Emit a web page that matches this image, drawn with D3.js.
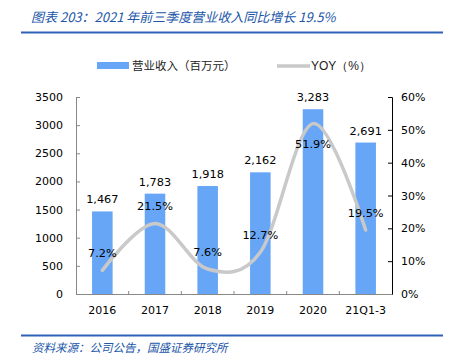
<!DOCTYPE html>
<html><head><meta charset="utf-8">
<script src="https://cdn.jsdelivr.net/npm/d3@7/dist/d3.min.js"></script>
<style>body{margin:0;background:#fff}svg{display:block}</style>
</head><body>
<svg id="c" width="450" height="360"></svg>
<script>
const categories = ["2016","2017","2018","2019","2020","21Q1-3"];
const revenue = [1467,1783,1918,2162,3283,2691];
const revenueLabels = ["1,467","1,783","1,918","2,162","3,283","2,691"];
const yoy = [7.2,21.5,7.6,12.7,51.9,19.5];
const yoyLabels = ["7.2%","21.5%","7.6%","12.7%","51.9%","19.5%"];
const leftTicks = [0,500,1000,1500,2000,2500,3000,3500];
const rightTicks = [0,10,20,30,40,50,60];
const titleText = "图表 203：2021 年前三季度营业收入同比增长 19.5%";
const sourceText = "资料来源：公司公告，国盛证券研究所";
const legendBar = "营业收入（百万元）";
const legendLine = "YOY（%）";

const svg = d3.select("#c");
const L = 76, R = 392, T = 97, B = 294;
const font = "'DejaVu Sans', Verdana, sans-serif";
const cjk = "'Noto Sans CJK SC', sans-serif";
const blue = "#2155a8";

// title
svg.append("text").attr("x", 31).attr("y", 22).attr("fill", blue)
  .attr("font-family", cjk).attr("font-style", "italic").attr("font-size", 13)
  .text(titleText);
svg.append("line").attr("x1", 21).attr("x2", 443).attr("y1", 32.5).attr("y2", 32.5)
  .attr("stroke", "#2e62b8").attr("stroke-width", 2);
// footer
svg.append("line").attr("x1", 21).attr("x2", 443).attr("y1", 335.5).attr("y2", 335.5)
  .attr("stroke", "#2e62b8").attr("stroke-width", 2);
svg.append("text").attr("x", 32).attr("y", 352).attr("fill", blue)
  .attr("font-family", cjk).attr("font-style", "italic").attr("font-size", 11.5)
  .text(sourceText);

const x = d3.scaleBand().domain(categories).range([L, R]).paddingInner(0.61).paddingOuter(0.305);
const xp = d3.scalePoint().domain(categories).range([L, R]).padding(0.5);
const y = d3.scaleLinear().domain([0, 3500]).range([B, T]);
const y2 = d3.scaleLinear().domain([0, 60]).range([B, T]);

// bars
svg.append("g").selectAll("rect").data(revenue).join("rect")
  .attr("x", (d, i) => x(categories[i])).attr("width", x.bandwidth())
  .attr("y", d => y(d)).attr("height", d => B - y(d))
  .attr("fill", "#67a6f7");

// axes
const gl = svg.append("g").attr("transform", `translate(${L},0)`)
  .call(d3.axisLeft(y).tickValues(leftTicks).tickSize(-4).tickPadding(13).tickFormat(d3.format("d")));
gl.select(".domain").attr("stroke", "#888");
gl.selectAll(".tick line").attr("stroke", "#888");
gl.selectAll("text").attr("font-family", font).attr("font-size", 11).attr("fill", "#000");

const gr = svg.append("g").attr("transform", `translate(${R},0)`)
  .call(d3.axisRight(y2).tickValues(rightTicks).tickSize(-4).tickPadding(9).tickFormat(d => d + "%"));
gr.select(".domain").attr("stroke", "#000");
gr.selectAll(".tick line").attr("stroke", "#000");
gr.selectAll("text").attr("font-family", font).attr("font-size", 11).attr("fill", "#000");

// bottom axis
const step = (R - L) / categories.length;
svg.append("line").attr("x1", L).attr("x2", R).attr("y1", B + 0.5).attr("y2", B + 0.5).attr("stroke", "#888");
svg.append("g").selectAll("line").data(d3.range(1, categories.length)).join("line")
  .attr("x1", i => L + i * step).attr("x2", i => L + i * step)
  .attr("y1", B - 3).attr("y2", B).attr("stroke", "#888");
svg.append("g").selectAll("text").data(categories).join("text")
  .attr("x", d => xp(d)).attr("y", 314).attr("text-anchor", "middle")
  .attr("font-family", font).attr("font-size", 11).text(d => d);

// line
const line = d3.line().x((d, i) => xp(categories[i])).y(d => y2(d)).curve(d3.curveCatmullRom.alpha(0));
svg.append("path").datum(yoy).attr("d", line).attr("fill", "none")
  .attr("stroke", "#c9c9c9").attr("stroke-width", 3.5).attr("stroke-linecap", "round");

// bar labels
svg.append("g").selectAll("text").data(revenue).join("text")
  .attr("x", (d, i) => xp(categories[i])).attr("y", d => y(d) - 8)
  .attr("text-anchor", "middle").attr("font-family", font).attr("font-size", 11.3)
  .text((d, i) => revenueLabels[i]);

// yoy labels
const offs = [-17, -17, -17, -17, 20, -17];
svg.append("g").selectAll("text").data(yoy).join("text")
  .attr("x", (d, i) => xp(categories[i])).attr("y", (d, i) => y2(d) + offs[i] + 4)
  .attr("text-anchor", "middle").attr("font-family", font).attr("font-size", 11.3)
  .text((d, i) => yoyLabels[i]);

// legend
svg.append("rect").attr("x", 97).attr("y", 62).attr("width", 32).attr("height", 7).attr("fill", "#67a6f7");
svg.append("text").attr("x", 132).attr("y", 70).attr("font-family", cjk).attr("font-size", 11.5).attr("fill", "#222").text(legendBar);
svg.append("line").attr("x1", 277).attr("x2", 310).attr("y1", 66).attr("y2", 66).attr("stroke", "#c9c9c9").attr("stroke-width", 3.5);
svg.append("text").attr("x", 311).attr("y", 70).attr("font-family", "'Liberation Sans', Arial, sans-serif").attr("font-size", 12).attr("fill", "#222").text(legendLine);
</script>
</body></html>
